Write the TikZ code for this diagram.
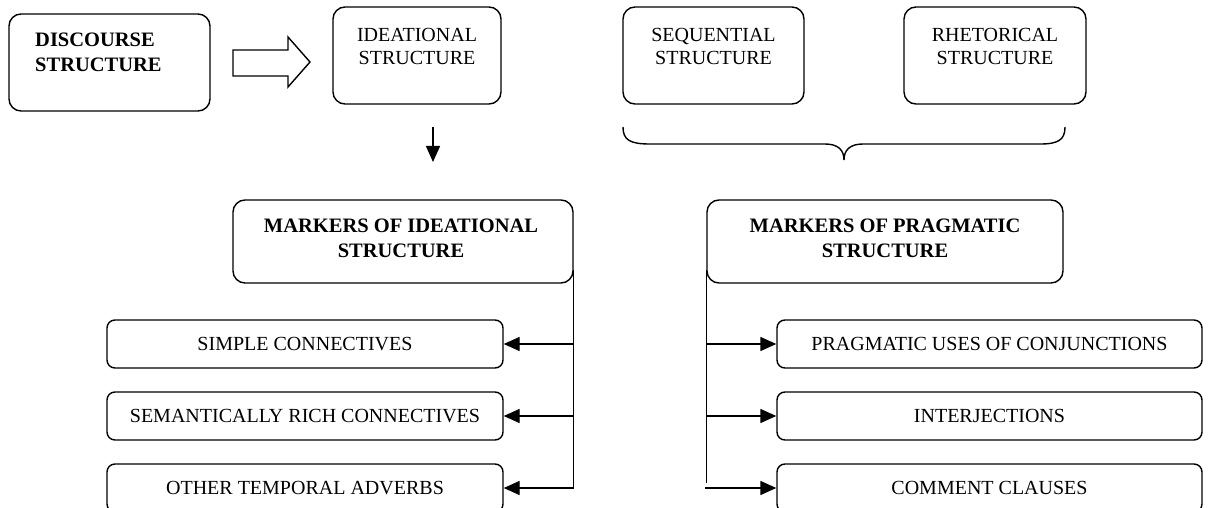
\documentclass[tikz,border=0pt]{standalone}
\usepackage{fontspec}
\setmainfont{Liberation Serif}
\usetikzlibrary{arrows.meta,calc}
\begin{document}
\begin{tikzpicture}[x=1pt,y=-1pt,
  bigbox/.style={draw, line width=1.4pt, rounded corners=12pt, inner sep=0pt},
  smallbox/.style={draw, line width=1.4pt, rounded corners=8pt, inner sep=0pt,
    minimum height=48pt, font=\fontsize{20}{24}\selectfont},
  caption/.style={inner sep=0pt, align=center, font=\fontsize{20}{23.5}\selectfont},
  link/.style={line width=1.4pt, -{Triangle[length=16pt,width=14pt]}},
  trunk/.style={line width=1.4pt}]
\useasboundingbox (0,0) rectangle (1229,508);

% top row
\node[bigbox, minimum width=201pt, minimum height=97pt] (disc) at (109.5,62.5) {};
\node[caption, anchor=north west, align=left, font=\fontsize{20.5}{24.5}\selectfont\bfseries]
  (disct) at (35,33) {DISCOURSE\\STRUCTURE};
\node[bigbox, minimum width=168pt, minimum height=97pt] (idea) at (417,55.5) {};
\node[caption, anchor=north] (ideat) at (417,28) {IDEATIONAL\\STRUCTURE};
\node[bigbox, minimum width=181pt, minimum height=97pt] (seq) at (713.5,55.5) {};
\node[caption, anchor=north] (seqt) at (713.5,28) {SEQUENTIAL\\STRUCTURE};
\node[bigbox, minimum width=182pt, minimum height=97pt] (rhet) at (995,55.5) {};
\node[caption, anchor=north] (rhett) at (995,28) {RHETORICAL\\STRUCTURE};

% hollow block arrow
\draw[line width=1.4pt, line join=miter]
  (233,50) -- (288,50) -- (288,37) -- (310,62) -- (288,87) -- (288,76) -- (233,76) -- cycle;

% down arrow below the ideational box
\coordinate (dtop) at (433,127);
\coordinate (dbot) at (433,162);
\draw[link] (dtop) -- (dbot);

% curly brace under the pragmatic pair
\draw[line width=1.4pt]
  (623,127) .. controls (623,140) and (630,144) .. (650,144) -- (825,144)
  .. controls (838,144) and (844,150) .. (844,160)
  .. controls (844,150) and (850,144) .. (863,144) -- (1040,144)
  .. controls (1058,144) and (1065,140) .. (1065,127);

% marker boxes
\node[bigbox, minimum width=340pt, minimum height=83pt] (mkI) at (403,241.5) {};
\node[caption, anchor=north, font=\fontsize{20.5}{25}\selectfont\bfseries]
  (mkIt) at (401,219) {MARKERS OF IDEATIONAL\\STRUCTURE};
\node[bigbox, minimum width=356pt, minimum height=83pt] (mkP) at (885,241.5) {};
\node[caption, anchor=north, font=\fontsize{20.5}{25}\selectfont\bfseries]
  (mkPt) at (885,219) {MARKERS OF PRAGMATIC\\STRUCTURE};

% ideational markers
\node[smallbox, minimum width=396pt] (l1) at (305,344) {SIMPLE CONNECTIVES};
\node[smallbox, minimum width=396pt] (l2) at (305,416) {SEMANTICALLY RICH CONNECTIVES};
\node[smallbox, minimum width=396pt] (l3) at (305,488) {OTHER TEMPORAL ADVERBS};

% pragmatic markers
\node[smallbox, minimum width=425pt] (r1) at (989.5,344) {PRAGMATIC USES OF CONJUNCTIONS};
\node[smallbox, minimum width=425pt] (r2) at (989.5,416) {INTERJECTIONS};
\node[smallbox, minimum width=425pt] (r3) at (989.5,488) {COMMENT CLAUSES};

% left tree
\draw[trunk] ($(mkI.south east)+(0,-14)$) -- (mkI.south east |- l3.east);
\draw[link] (mkI.south east |- l1.east) -- (l1.east);
\draw[link] (mkI.south east |- l2.east) -- (l2.east);
\draw[link] (mkI.south east |- l3.east) -- (l3.east);

% right tree
\draw[trunk] ($(mkP.south west)+(0,-14)$) -- ($(mkP.south west |- r3.west)+(0,-5)$);
\draw[link] (mkP.south west |- r1.west) -- (r1.west);
\draw[link] (mkP.south west |- r2.west) -- (r2.west);
\draw[link] ($(mkP.south west |- r3.west)+(-1,0)$) -- (r3.west);
\end{tikzpicture}
\end{document}
